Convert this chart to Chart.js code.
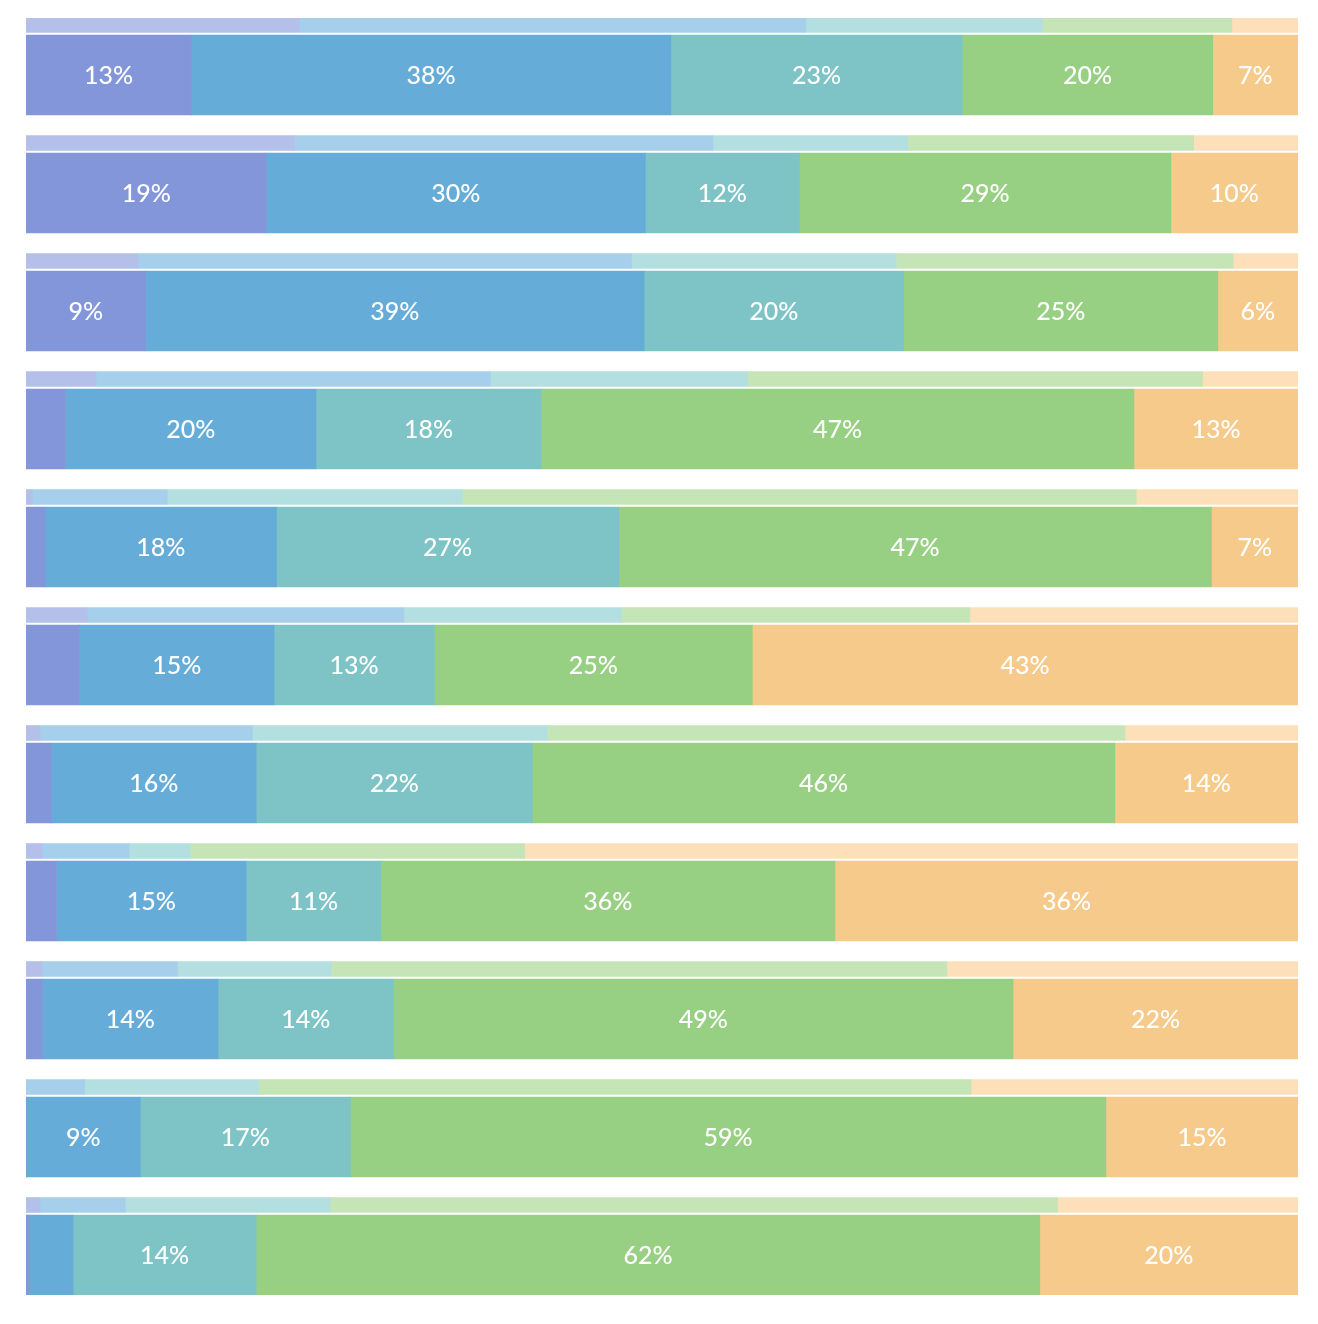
<!DOCTYPE html>
<html>
<head>
<meta charset="utf-8">
<script src="https://cdn.jsdelivr.net/npm/chart.js@4"></script>
<style>
  html, body { margin: 0; padding: 0; background: #fff; }
  #wrap { width: 1318px; height: 1324px; position: relative; }
</style>
</head>
<body>
<div id="wrap"><canvas id="chart"></canvas></div>
<script>
// Parts de chaque catégorie par ligne (barre fine = comparaison, barre épaisse = actuelle)
const rows = ['1', '2', '3', '4', '5', '6', '7', '8', '9', '10', '11'];
const thinValues = [
    [21.5, 39.8, 18.6, 14.9, 5.2],
    [21.1, 32.9, 15.3, 22.5, 8.2],
    [8.8, 38.8, 20.8, 26.5, 5.1],
    [5.5, 31.0, 20.2, 35.8, 7.5],
    [0.5, 10.6, 23.2, 53.0, 12.7],
    [4.8, 24.9, 17.1, 27.4, 25.8],
    [1.1, 16.7, 23.2, 45.4, 13.6],
    [1.3, 6.8, 4.8, 26.3, 60.8],
    [1.3, 10.6, 12.1, 48.4, 27.6],
    [0.0, 4.6, 13.7, 56.0, 25.7],
    [1.1, 6.7, 16.1, 57.2, 18.9]
];
const mainValues = [
    [13.0, 37.7, 22.9, 19.7, 6.7],
    [18.9, 29.8, 12.1, 29.2, 10.0],
    [9.4, 39.2, 20.4, 24.7, 6.3],
    [3.1, 19.7, 17.7, 46.6, 12.9],
    [1.5, 18.2, 26.9, 46.6, 6.8],
    [4.2, 15.3, 12.6, 25.0, 42.9],
    [2.0, 16.1, 21.7, 45.8, 14.4],
    [2.4, 14.9, 10.6, 35.7, 36.4],
    [1.3, 13.8, 13.8, 48.7, 22.4],
    [0.0, 9.0, 16.5, 59.4, 15.1],
    [0.2, 3.5, 14.4, 61.6, 20.3]
];
const mainColors = ['#8396d9', '#66acd9', '#7ec4c7', '#98d083', '#f6ca8a'];
const thinColors = ['#b4c0ea', '#a5cfea', '#b3dfe0', '#c6e5b6', '#fde0b9'];

const THIN_POS = 7 / 118;   // centre de la barre fine dans la ligne
const MAIN_POS = 57 / 118;  // centre de la barre épaisse

function buildDatasets(values, colors, pos, thickness, withLabels) {
    return colors.map((color, k) => ({
        data: rows.map((r, i) => {
            const start = values[i].slice(0, k).reduce((a, b) => a + b, 0);
            return { y: i + pos, x: [start, start + values[i][k]], v: values[i][k] };
        }),
        backgroundColor: color,
        barThickness: thickness,
        borderSkipped: false,
        showLabel: withLabels
    }));
}

const labelPlugin = {
    id: 'valueLabels',
    afterDatasetsDraw(chart) {
        const ctx = chart.ctx;
        ctx.save();
        ctx.fillStyle = '#ffffff';
        ctx.font = '500 25px Lato';
        ctx.textAlign = 'center';
        ctx.textBaseline = 'middle';
        chart.data.datasets.forEach((ds, di) => {
            if (!ds.showLabel) return;
            chart.getDatasetMeta(di).data.forEach((bar, j) => {
                const v = ds.data[j].v;
                if (v < 5) return;
                const cx = (bar.x + bar.base) / 2;
                ctx.fillText(Math.round(v) + '%', cx, bar.y + 1);
            });
        });
        ctx.restore();
    }
};

new Chart(document.getElementById('chart'), {
    type: 'bar',
    data: {
        datasets: [
            ...buildDatasets(thinValues, thinColors, THIN_POS, 15, false),
            ...buildDatasets(mainValues, mainColors, MAIN_POS, 80, true)
        ]
    },
    options: {
        indexAxis: 'y',
        responsive: true,
        maintainAspectRatio: false,
        animation: false,
        grouped: false,
        layout: { padding: { left: 26, right: 20, top: 18, bottom: 29 } },
        plugins: { legend: { display: false }, tooltip: { enabled: false } },
        scales: {
            x: { type: 'linear', min: 0, max: 100, display: false },
            y: { type: 'linear', min: 0, max: 1277 / 118, reverse: true, offset: false, display: false }
        }
    },
    plugins: [labelPlugin]
});
</script>
</body>
</html>
